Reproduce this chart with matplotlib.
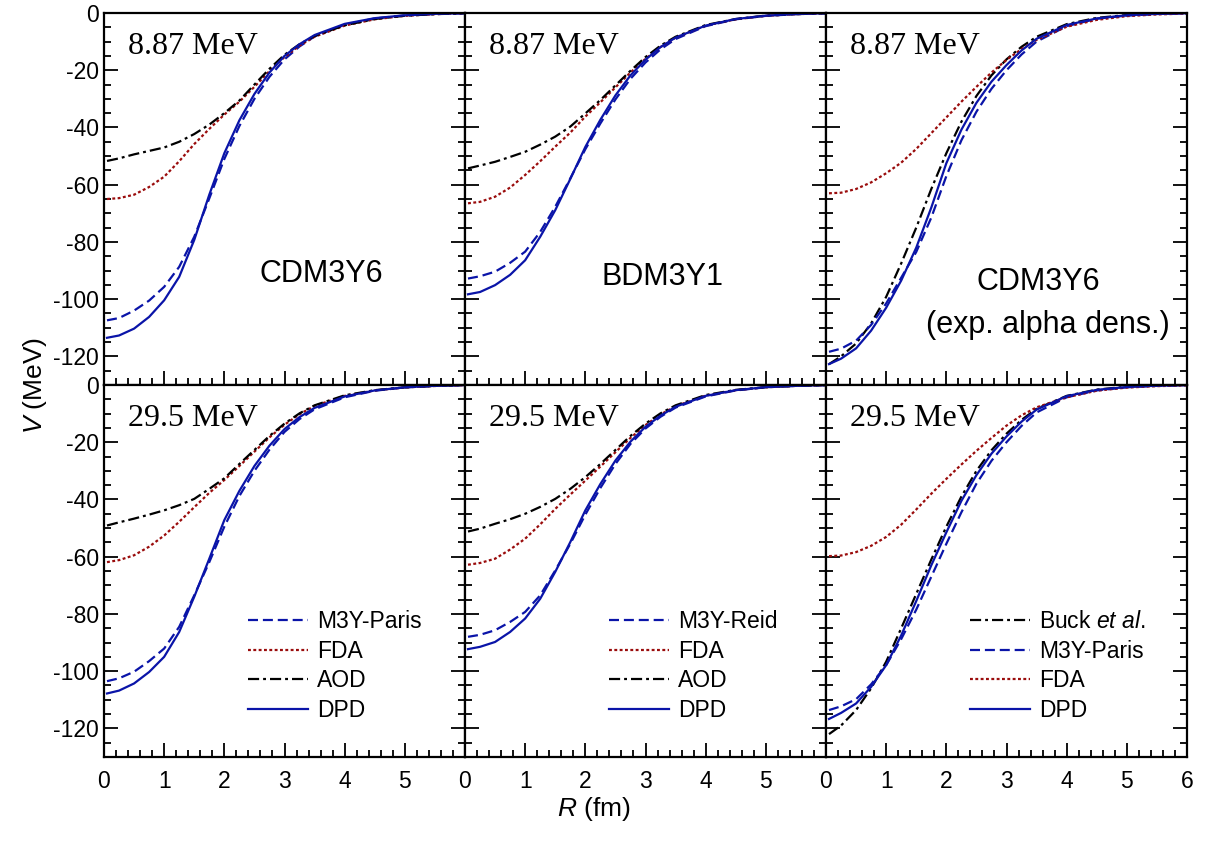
import matplotlib
matplotlib.use('Agg')
import matplotlib.pyplot as plt
from matplotlib.ticker import MultipleLocator

plt.rcParams['font.family'] = ['Liberation Sans', 'DejaVu Sans']
plt.rcParams['mathtext.fontset'] = 'custom'
plt.rcParams['mathtext.rm'] = 'Liberation Sans'
plt.rcParams['mathtext.it'] = 'Liberation Sans:italic'
plt.rcParams['axes.unicode_minus'] = False

# R grid (fm) on which the curves were read
R = [0.05, 0.25, 0.5, 0.75, 1.0, 1.25, 1.5, 1.75, 2.0, 2.25, 2.5, 2.75,
     3.0, 3.25, 3.5, 4.0, 4.5, 5.0, 5.5, 6.0]

# top-left: CDM3Y6, 8.87 MeV
p1_m3y = [-107.4, -106.6, -104.0, -100.5, -95.7, -88.7, -78.2, -64.8, -51.0, -39.5, -30.0, -22.3,
          -16.2, -11.7, -8.2, -4.1, -1.9, -0.85, -0.35, -0.1]
p1_fda = [-65.0, -64.7, -63.5, -60.8, -57.2, -51.8, -45.8, -40.5, -35.5, -31.0, -25.8, -20.3,
          -15.4, -11.4, -8.3, -4.4, -2.2, -1.0, -0.4, -0.1]
p1_aod = [-51.7, -50.8, -49.4, -48.2, -47.0, -45.0, -42.3, -39.0, -35.0, -30.6, -25.0, -19.5,
          -14.6, -10.9, -8.0, -4.3, -2.1, -0.95, -0.4, -0.1]
p1_dpd = [-113.5, -112.7, -110.3, -106.2, -100.4, -92.2, -79.3, -63.5, -49.0, -37.5, -28.3, -20.8,
          -15.0, -10.9, -7.7, -3.8, -1.8, -0.8, -0.3, -0.1]

# top-middle: BDM3Y1, 8.87 MeV
p2_m3y = [-92.8, -92.0, -90.4, -87.3, -83.4, -76.5, -67.7, -57.8, -47.6, -38.6, -30.2, -23.0,
          -17.3, -12.7, -9.1, -4.6, -2.2, -1.0, -0.4, -0.1]
p2_fda = [-66.5, -66.0, -64.2, -61.0, -56.6, -51.8, -46.7, -41.8, -36.2, -31.2, -26.0, -20.8,
          -16.0, -11.9, -8.6, -4.4, -2.2, -1.0, -0.4, -0.1]
p2_aod = [-54.3, -53.3, -52.0, -50.3, -48.5, -46.0, -43.2, -39.7, -35.1, -30.4, -25.3, -20.2,
          -15.4, -11.4, -8.3, -4.2, -2.1, -0.9, -0.4, -0.1]
p2_dpd = [-98.3, -97.5, -95.1, -91.5, -86.4, -78.2, -68.9, -58.0, -46.8, -37.3, -28.8, -21.8,
          -16.3, -11.9, -8.6, -4.4, -2.1, -0.95, -0.35, -0.1]

# top-right: CDM3Y6 with experimental alpha density, 8.87 MeV
p3_buck = [-122.7, -120.0, -115.5, -108.5, -99.2, -87.5, -75.0, -61.5, -49.0, -38.0, -29.0, -21.8,
           -16.2, -11.8, -8.3, -3.9, -1.7, -0.7, -0.25, -0.05]
p3_m3y = [-118.4, -117.3, -114.5, -109.0, -101.5, -92.5, -83.5, -71.5, -57.0, -44.5, -34.5, -26.5,
          -20.0, -14.5, -10.0, -4.6, -2.0, -0.9, -0.35, -0.1]
p3_fda = [-63.0, -62.8, -61.5, -59.2, -56.0, -52.3, -47.5, -42.0, -36.5, -31.0, -25.8, -20.8,
          -16.4, -12.6, -9.4, -4.8, -2.4, -1.1, -0.5, -0.2]
p3_dpd = [-122.7, -120.8, -117.2, -111.0, -103.0, -93.5, -82.0, -68.0, -52.5, -40.8, -31.4, -24.0,
          -18.2, -13.1, -9.0, -4.2, -1.9, -0.8, -0.3, -0.1]

# bottom-left: CDM3Y6, 29.5 MeV
p4_m3y = [-103.5, -102.5, -100.2, -96.5, -92.1, -84.5, -73.5, -61.9, -49.5, -38.8, -30.0, -22.6,
          -16.4, -11.9, -8.5, -4.3, -2.0, -0.85, -0.3, -0.05]
p4_fda = [-61.9, -61.2, -59.5, -56.5, -52.6, -47.8, -42.7, -37.7, -33.2, -28.3, -23.3, -18.3,
          -13.9, -10.2, -7.3, -3.8, -1.9, -0.85, -0.35, -0.1]
p4_aod = [-49.1, -48.0, -46.7, -45.3, -43.8, -42.0, -39.8, -36.3, -32.6, -27.6, -22.7, -17.8,
          -13.5, -9.9, -7.1, -3.6, -1.8, -0.8, -0.3, -0.05]
p4_dpd = [-107.8, -106.8, -104.3, -100.3, -95.0, -86.3, -74.0, -60.7, -47.2, -37.0, -28.3, -21.2,
          -15.4, -11.2, -8.0, -4.0, -1.9, -0.8, -0.3, -0.05]

# bottom-middle: BDM3Y1, 29.5 MeV
p5_m3y = [-88.0, -87.3, -85.7, -82.8, -79.3, -73.5, -64.8, -55.5, -45.3, -36.0, -27.6, -20.6,
          -15.2, -11.1, -7.9, -4.0, -1.9, -0.8, -0.3, -0.05]
p5_fda = [-62.8, -62.2, -60.7, -57.5, -53.7, -48.7, -43.3, -38.3, -33.4, -28.5, -23.5, -18.5,
          -14.0, -10.3, -7.4, -3.7, -1.8, -0.8, -0.3, -0.05]
p5_aod = [-51.2, -50.2, -48.5, -46.9, -45.0, -42.6, -39.8, -36.3, -32.2, -27.6, -22.7, -17.8,
          -13.5, -9.9, -7.1, -3.5, -1.7, -0.75, -0.3, -0.05]
p5_dpd = [-92.3, -91.5, -89.8, -86.3, -81.6, -74.7, -65.3, -54.9, -43.8, -34.6, -26.4, -19.8,
          -14.6, -10.7, -7.6, -3.8, -1.8, -0.75, -0.3, -0.05]

# bottom-right: exp. alpha density, 29.5 MeV
p6_buck = [-122.0, -119.0, -113.6, -106.0, -96.7, -85.0, -73.0, -61.0, -49.5, -39.0, -30.0, -22.8,
           -17.0, -12.2, -8.3, -3.8, -1.6, -0.6, -0.2, 0.0]
p6_m3y = [-113.6, -112.3, -109.8, -104.6, -97.9, -88.8, -78.5, -67.0, -55.5, -44.5, -34.5, -26.5,
          -20.0, -14.3, -9.6, -4.3, -1.9, -0.8, -0.3, -0.05]
p6_fda = [-59.8, -59.6, -58.4, -56.2, -53.1, -48.8, -43.5, -38.0, -32.8, -27.8, -23.0, -18.5,
          -14.2, -10.6, -7.8, -4.3, -2.0, -0.9, -0.4, -0.15]
p6_dpd = [-116.7, -114.6, -111.3, -105.5, -97.9, -87.5, -75.5, -63.0, -51.5, -40.5, -31.5, -24.0,
          -18.0, -12.8, -8.6, -3.9, -1.7, -0.7, -0.25, -0.05]

energies = ['8.87 MeV', '29.5 MeV']
blue = '#0a14a8'
red = '#9a0c0c'

sty = {
    'm3y': dict(color=blue, lw=1.6, ls=(0, (4.5, 2.2))),
    'fda': dict(color=red, lw=1.6, ls=(0, (1.3, 1.1))),
    'aod': dict(color='black', lw=1.6, ls=(0, (5, 1.8, 1.3, 1.8))),
    'dpd': dict(color=blue, lw=1.6, ls='-'),
}

fig, axes = plt.subplots(2, 3, figsize=(12.05, 8.58), dpi=100)
fig.subplots_adjust(left=104/1205, right=1187/1205, top=1-13/858, bottom=1-757/858,
                    wspace=0, hspace=0)

panels = [
    [('M3Y-Paris', p1_m3y, 'm3y'), ('FDA', p1_fda, 'fda'), ('AOD', p1_aod, 'aod'), ('DPD', p1_dpd, 'dpd')],
    [('M3Y-Reid', p2_m3y, 'm3y'), ('FDA', p2_fda, 'fda'), ('AOD', p2_aod, 'aod'), ('DPD', p2_dpd, 'dpd')],
    [('Buck $et\\ al.$', p3_buck, 'aod'), ('M3Y-Paris', p3_m3y, 'm3y'), ('FDA', p3_fda, 'fda'), ('DPD', p3_dpd, 'dpd')],
    [('M3Y-Paris', p4_m3y, 'm3y'), ('FDA', p4_fda, 'fda'), ('AOD', p4_aod, 'aod'), ('DPD', p4_dpd, 'dpd')],
    [('M3Y-Reid', p5_m3y, 'm3y'), ('FDA', p5_fda, 'fda'), ('AOD', p5_aod, 'aod'), ('DPD', p5_dpd, 'dpd')],
    [('Buck $et\\ al.$', p6_buck, 'aod'), ('M3Y-Paris', p6_m3y, 'm3y'), ('FDA', p6_fda, 'fda'), ('DPD', p6_dpd, 'dpd')],
]

xlabels = ['0', '1', '2', '3', '4', '5', '6']

for k, ax in enumerate(axes.flat):
    row, col = divmod(k, 3)
    for label, vals, key in panels[k]:
        ax.plot(R, vals, label=label, **sty[key])
    ax.set_xlim(0, 6)
    ax.set_ylim(-130, 0)
    ax.set_xticks(range(7))
    ax.xaxis.set_minor_locator(MultipleLocator(0.2))
    ax.set_yticks([0, -20, -40, -60, -80, -100, -120])
    ax.yaxis.set_minor_locator(MultipleLocator(5))
    ax.tick_params(which='both', direction='in', top=False, right=True, labelsize=16.5, width=1.3)
    ax.tick_params(which='major', length=10)
    ax.tick_params(which='minor', length=5)
    ax.tick_params(axis='x', pad=9)
    for s in ax.spines.values():
        s.set_linewidth(1.6)
    if row == 1:
        labs = xlabels if col == 2 else xlabels[:-1] + ['']
        ax.set_xticklabels(labs)
    else:
        ax.set_xticklabels([])
    if col != 0:
        ax.set_yticklabels([])
    ax.text(0.066, 0.91, energies[row], transform=ax.transAxes, fontsize=23,
            family='Liberation Serif', va='center', ha='left')
    if row == 1:
        ax.legend(loc='lower left', bbox_to_anchor=(0.40, 0.095), frameon=False, fontsize=16.5,
                  handlelength=2.6, handletextpad=0.4, labelspacing=0.28, borderpad=0,
                  borderaxespad=0)

axes[0, 0].text(0.603, 0.298, 'CDM3Y6', transform=axes[0, 0].transAxes, fontsize=22, ha='center', va='center')
axes[0, 1].text(0.546, 0.29, 'BDM3Y1', transform=axes[0, 1].transAxes, fontsize=22, ha='center', va='center')
axes[0, 2].text(0.587, 0.277, 'CDM3Y6', transform=axes[0, 2].transAxes, fontsize=22, ha='center', va='center')
axes[0, 2].text(0.615, 0.16, '(exp. alpha dens.)', transform=axes[0, 2].transAxes, fontsize=22, ha='center', va='center')

fig.text(594/1205, 1-809/858, '$R$ (fm)', fontsize=19, ha='center', va='center')
fig.text(35/1205, 1-385/858, '$V$ (MeV)', fontsize=19, ha='center', va='center', rotation=90)

fig.savefig('out.png', dpi=100)
